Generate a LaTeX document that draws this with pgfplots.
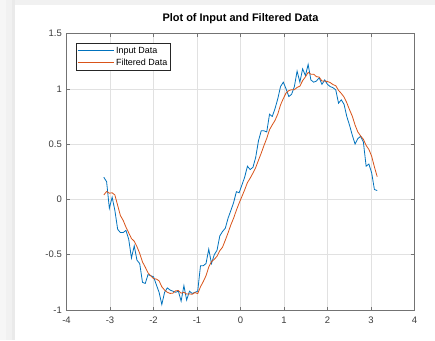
\documentclass[border=0pt]{standalone}
\usepackage{fontspec}
\setmainfont{Liberation Sans}
\usepackage{pgfplots}
\usepackage{pgfplotstable}
\pgfplotsset{compat=1.18}
\definecolor{mblue}{rgb}{0,0.447,0.741}
\definecolor{morange}{rgb}{0.850,0.325,0.098}
\definecolor{axgray}{RGB}{115,115,115}
\definecolor{txtgray}{RGB}{60,60,60}
\definecolor{gridgray}{RGB}{225,225,225}
\definecolor{bga}{RGB}{246,246,246}
\definecolor{bgb}{RGB}{241,241,241}
\definecolor{bgc}{RGB}{234,234,234}
\pgfplotstableread{
x in filt
-3.142 0.20 0.040
-3.078 0.16 0.072
-3.015 -0.08 0.056
-2.951 0.02 0.060
-2.888 -0.10 0.040
-2.824 -0.27 -0.054
-2.761 -0.30 -0.146
-2.697 -0.30 -0.190
-2.634 -0.28 -0.250
-2.570 -0.36 -0.302
-2.507 -0.53 -0.354
-2.443 -0.42 -0.378
-2.380 -0.55 -0.428
-2.317 -0.58 -0.488
-2.253 -0.75 -0.566
-2.190 -0.76 -0.612
-2.126 -0.68 -0.664
-2.063 -0.69 -0.692
-1.999 -0.70 -0.716
-1.936 -0.77 -0.720
-1.872 -0.84 -0.736
-1.809 -0.95 -0.790
-1.745 -0.84 -0.820
-1.682 -0.80 -0.840
-1.618 -0.82 -0.850
-1.555 -0.83 -0.848
-1.492 -0.84 -0.826
-1.428 -0.83 -0.824
-1.365 -0.92 -0.848
-1.301 -0.78 -0.840
-1.238 -0.91 -0.856
-1.174 -0.83 -0.854
-1.111 -0.85 -0.858
-1.047 -0.84 -0.842
-0.984 -0.83 -0.852
-0.920 -0.60 -0.790
-0.857 -0.60 -0.744
-0.793 -0.58 -0.690
-0.730 -0.45 -0.612
-0.667 -0.58 -0.562
-0.603 -0.50 -0.542
-0.540 -0.46 -0.514
-0.476 -0.33 -0.464
-0.413 -0.29 -0.432
-0.349 -0.26 -0.368
-0.286 -0.17 -0.302
-0.222 -0.10 -0.230
-0.159 -0.03 -0.170
-0.095 0.07 -0.098
-0.032 0.06 -0.034
0.032 0.13 0.026
0.095 0.20 0.086
0.159 0.30 0.152
0.222 0.27 0.192
0.286 0.29 0.238
0.349 0.38 0.288
0.413 0.53 0.354
0.476 0.62 0.418
0.540 0.62 0.488
0.603 0.61 0.552
0.667 0.77 0.630
0.730 0.75 0.674
0.793 0.82 0.714
0.857 0.91 0.772
0.920 1.02 0.854
0.984 1.06 0.912
1.047 1.00 0.962
1.111 0.93 0.984
1.174 0.95 0.992
1.238 1.02 0.992
1.301 1.16 1.012
1.365 1.06 1.024
1.428 1.18 1.074
1.492 1.12 1.108
1.555 1.22 1.148
1.618 1.08 1.132
1.682 1.06 1.132
1.745 1.07 1.110
1.809 1.10 1.106
1.872 1.04 1.070
1.936 1.08 1.070
1.999 1.04 1.066
2.063 1.02 1.056
2.126 1.01 1.038
2.190 0.99 1.028
2.253 0.87 0.986
2.317 0.90 0.958
2.380 0.86 0.926
2.443 0.75 0.874
2.507 0.67 0.810
2.570 0.58 0.752
2.634 0.50 0.672
2.697 0.55 0.610
2.761 0.57 0.574
2.824 0.52 0.544
2.888 0.30 0.488
2.951 0.32 0.452
3.015 0.24 0.390
3.078 0.09 0.294
3.142 0.08 0.206
}\datatable
\begin{document}
\begin{tikzpicture}[x=1bp,y=1bp]
\fill[white] (0,0) rectangle (435,340);
\fill[bga] (0,0) rectangle (6,340);
\fill[bgb] (6,0) rectangle (12,340);
\fill[bgc] (12,0) rectangle (15,340);
\fill[bgb] (15,335) rectangle (435,340);
\begin{axis}[
  at={(66.5bp,30bp)}, anchor=south west,
  scale only axis, width=348bp, height=276.5bp,
  xmin=-4, xmax=4, ymin=-1, ymax=1.5,
  xtick={-4,-3,...,4}, ytick={-1,-0.5,0,0.5,1,1.5},
  axis line style={draw=axgray, line width=0.6bp},
  tick style={draw=axgray, line width=0.5bp},
  tick align=inside, major tick length=3.5bp,
  grid=major, major grid style={draw=gridgray, line width=0.5bp},
  tick label style={font=\fontsize{9.5}{11}\selectfont, text=txtgray},
  /pgf/number format/assume math mode=true,
  xticklabel style={anchor=base, yshift=-13bp},
  yticklabel style={anchor=east, xshift=-1.2bp},
  title={\textbf{Plot of Input and Filtered Data}},
  title style={font=\fontsize{11}{13}\selectfont, at={(0.5,1)}, anchor=base, yshift=6.5bp, text=black},
  legend style={at={(0.0273,0.9646)}, anchor=north west,
    font=\fontsize{9}{10.5}\selectfont, draw={rgb,255:red,38;green,38;blue,38},
    line width=0.5bp, inner xsep=1bp, inner ysep=1.5bp, row sep=0pt,
    cells={anchor=west}},
  legend image code/.code={\draw[#1] (0bp,0bp) -- (36bp,0bp);},
]
\addplot[mblue, line width=0.8bp] table[x=x, y=in] {\datatable};
\addlegendentry{Input Data}
\addplot[morange, line width=0.8bp] table[x=x, y=filt] {\datatable};
\addlegendentry{Filtered Data}
\end{axis}
\end{tikzpicture}
\end{document}
